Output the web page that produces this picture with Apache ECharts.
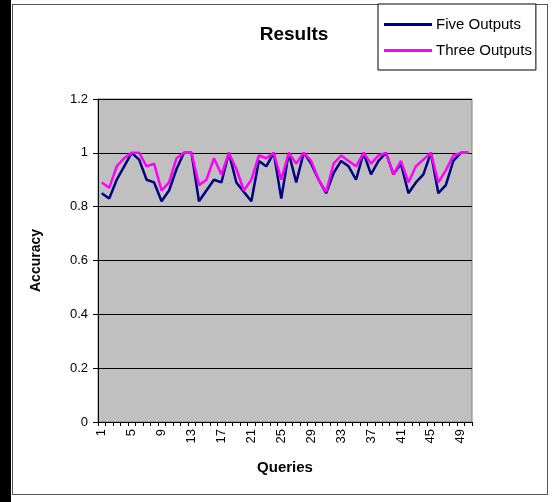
<!DOCTYPE html>
<html>
<head>
<meta charset="utf-8">
<script src="https://cdn.jsdelivr.net/npm/echarts@6/dist/echarts.min.js"></script>
<style>
html,body{margin:0;padding:0;background:#fff;}
#wrap{position:relative;width:557px;height:502px;overflow:hidden;background:#fff;}
#frame{position:absolute;left:12px;top:4px;width:536px;height:491px;border:1px solid #555;box-sizing:border-box;}
#strip{position:absolute;left:0;top:0;width:11px;height:502px;background:#000;}
#chart{position:absolute;left:0;top:0;width:557px;height:502px;}
</style>
</head>
<body>
<div id="wrap"><div id="strip"></div><div id="frame"></div><div id="chart"></div></div>
<script>
const queries = Array.from({length:50},(_, i)=>String(i+1));
const fiveOutputs = [0.85,0.83,0.90,0.95,1.00,0.975,0.90,0.89,0.82,0.86,
  0.94,1.00,1.00,0.82,0.86,0.90,0.89,1.00,0.89,0.855,
  0.82,0.97,0.95,1.00,0.83,1.00,0.89,1.00,0.96,0.90,
  0.85,0.925,0.97,0.95,0.90,1.00,0.92,0.97,1.00,0.92,
  0.96,0.85,0.89,0.92,1.00,0.85,0.88,0.97,1.00,1.00];
const threeOutputs = [0.89,0.87,0.95,0.98,1.00,1.00,0.95,0.96,0.86,0.89,
  0.98,1.00,1.00,0.88,0.90,0.98,0.92,1.00,0.94,0.86,
  0.90,0.99,0.98,1.00,0.90,1.00,0.96,1.00,0.97,0.90,
  0.855,0.96,0.99,0.97,0.95,1.00,0.96,0.99,1.00,0.92,
  0.97,0.89,0.95,0.975,1.00,0.89,0.935,0.99,1.00,1.00];
const yTicks = [0,0.2,0.4,0.6,0.8,1,1.2];

const chart = echarts.init(document.getElementById('chart'), null, {renderer:'canvas'});
const font = 'Arial, "Liberation Sans", sans-serif';
chart.setOption({
  animation:false,
  backgroundColor:'transparent',
  title:{text:'Results', left:289, top:20, textAlign:'center',
    textStyle:{fontFamily:font, fontSize:19, fontWeight:'bold', color:'#000'}},
  legend:{orient:'vertical', left:378, top:4,
    padding:[13,4,12,6], itemGap:11, itemWidth:48, itemHeight:3,
    borderColor:'#000', borderWidth:1, backgroundColor:'#fff',
    icon:'rect',
    textStyle:{fontFamily:font, fontSize:15, color:'#000', padding:[0,0,0,-1]},
    data:['Five Outputs','Three Outputs']},
  grid:{left:98, right:85, top:99, bottom:80, show:true, backgroundColor:'#C0C0C0',
    borderColor:'#808080', borderWidth:1},
  xAxis:{type:'category', data:queries, boundaryGap:true,
    name:'Queries', nameLocation:'middle', nameGap:38,
    nameTextStyle:{fontFamily:font, fontSize:15, fontWeight:'bold', color:'#000'},
    axisLine:{lineStyle:{color:'#000', width:1}},
    axisTick:{show:true, interval:0, length:4, lineStyle:{color:'#000'}},
    axisLabel:{interval:3, rotate:90, fontFamily:font, fontSize:13, color:'#000', margin:7},
    splitLine:{show:false}},
  yAxis:{type:'value', min:0, max:1.2, interval:0.2,
    name:'Accuracy', nameLocation:'middle', nameGap:55,
    nameTextStyle:{fontFamily:font, fontSize:14, fontWeight:'bold', color:'#000'},
    axisLine:{show:true, lineStyle:{color:'#000', width:1}},
    axisTick:{show:true, length:5, lineStyle:{color:'#000'}},
    axisLabel:{fontFamily:font, fontSize:13, color:'#000', margin:10,
      formatter:v=>String(Math.round(v*10)/10)},
    splitLine:{show:true, lineStyle:{color:'#000', width:1}}},
  series:[
    {name:'Five Outputs', type:'line', data:fiveOutputs, symbol:'none',
      lineStyle:{color:'#000080', width:2.5}, itemStyle:{color:'#000080'}},
    {name:'Three Outputs', type:'line', data:threeOutputs, symbol:'none',
      lineStyle:{color:'#FF00FF', width:2.5}, itemStyle:{color:'#FF00FF'}}
  ]
});
</script>
</body>
</html>
